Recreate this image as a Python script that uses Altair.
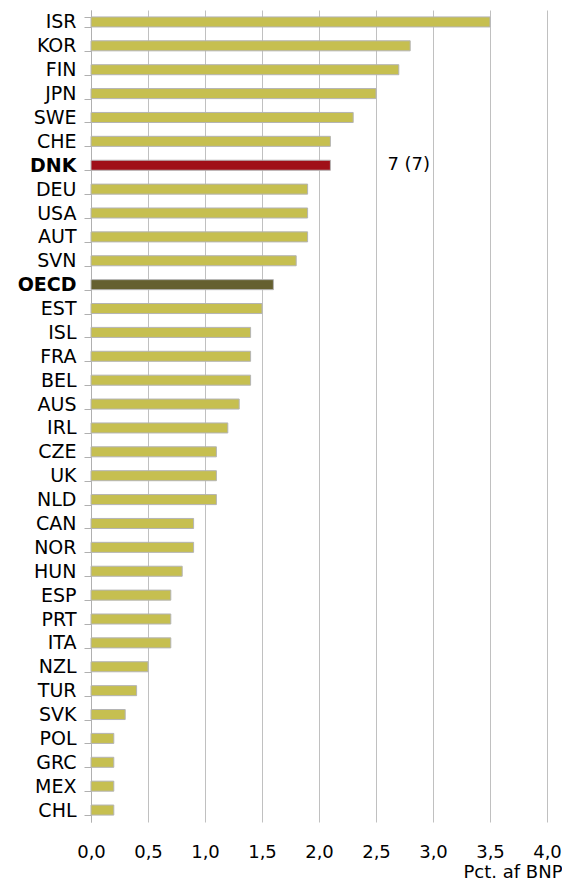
import altair as alt
import pandas as pd

countries = ["ISR", "KOR", "FIN", "JPN", "SWE", "CHE", "DNK", "DEU", "USA", "AUT", "SVN",
             "OECD", "EST", "ISL", "FRA", "BEL", "AUS", "IRL", "CZE", "UK", "NLD", "CAN",
             "NOR", "HUN", "ESP", "PRT", "ITA", "NZL", "TUR", "SVK", "POL", "GRC", "MEX", "CHL"]
values = [3.5, 2.8, 2.7, 2.5, 2.3, 2.1, 2.1, 1.9, 1.9, 1.9, 1.8,
          1.6, 1.5, 1.4, 1.4, 1.4, 1.3, 1.2, 1.1, 1.1, 1.1, 0.9,
          0.9, 0.8, 0.7, 0.7, 0.7, 0.5, 0.4, 0.3, 0.2, 0.2, 0.2, 0.2]
groups = ["DNK" if c == "DNK" else ("OECD" if c == "OECD" else "other") for c in countries]
rank_label = "7 (7)"

df = pd.DataFrame({"country": countries, "value": values, "group": groups})
ann = pd.DataFrame({"country": ["DNK"], "value": [2.1], "label": [rank_label]})

FONT = "DejaVu Sans"
W = 456

y_enc = alt.Y("country:N", sort=countries, title=None,
              scale=alt.Scale(paddingInner=0.58, paddingOuter=0.29),
              axis=alt.Axis(tickBand="extent", ticks=True, tickSize=7, tickColor="#b0b0b0",
                            domainColor="#b0b0b0", labelPadding=8, labelFontSize=19,
                            labelFont=FONT, labelColor="#000000",
                            labelFontWeight=alt.expr("datum.value == 'DNK' || datum.value == 'OECD' ? 'bold' : 'normal'"),
                            grid=False))

x_enc = alt.X("value:Q", title="Pct. af BNP",
              scale=alt.Scale(domain=[0, 4.0], nice=False),
              axis=alt.Axis(values=[0, 0.5, 1, 1.5, 2, 2.5, 3, 3.5, 4],
                            labelExpr="replace(format(datum.value, '.1f'), '.', ',')",
                            labelFlush=False,
                            grid=True, gridColor="#c0c0c0", domain=False, ticks=False,
                            labelPadding=21, labelFontSize=18, labelFont=FONT, labelColor="#000000",
                            titleFont=FONT, titleFontSize=18, titleFontWeight="normal",
                            titleAlign="right", titleBaseline="alphabetic",
                            titleX=W + 15, titleY=55,
                            titleColor="#000000"))

bars = alt.Chart(df).mark_bar(stroke="#b4b4b4", strokeWidth=1).encode(
    x=x_enc,
    y=y_enc,
    color=alt.Color("group:N", legend=None,
                    scale=alt.Scale(domain=["other", "DNK", "OECD"],
                                    range=["#c6bf50", "#a01018", "#656030"])),
)

text = alt.Chart(ann).mark_text(align="left", baseline="middle", dx=57, fontSize=18,
                                font=FONT, color="#000000").encode(
    x=alt.X("value:Q"),
    y=alt.Y("country:N", sort=countries),
    text="label:N",
)

chart = (bars + text).properties(
    width=W, height=812,
    autosize=alt.AutoSizeParams(type="none"),
    padding={"left": 83, "top": 2, "right": 15, "bottom": 60},
).configure_view(stroke=None)

chart.save("out.html", embed_options={"renderer": "svg", "actions": False})
